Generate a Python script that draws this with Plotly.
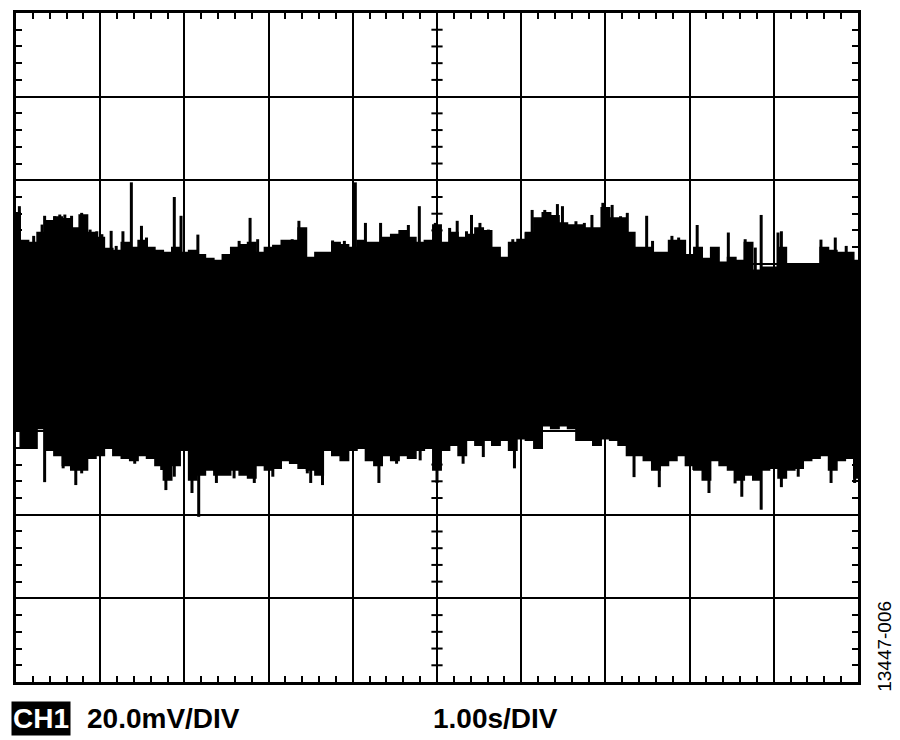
import numpy as np
import plotly.graph_objects as go

# time axis, 1.00 s/div, 10 divisions
t = [round(0.1 * i, 1) for i in range(101)]

# upper / lower envelope of the noise band (mV)
upper = [32.2, 25.6, 25.1, 27.5, 30.3, 31.2, 30.8, 28.6, 31.7, 27.5,
         26.3, 23.7, 23.2, 25.1, 23.9, 25.6, 23.9, 23.2, 22.7, 23.9,
         22.7, 23.2, 22.2, 21.3, 20.8, 22.2, 23.9, 24.6, 25.1, 22.7,
         23.9, 24.4, 25.6, 25.6, 28.6, 21.5, 22.7, 22.7, 25.1, 24.6,
         23.9, 25.6, 25.1, 25.1, 26.3, 27.0, 27.9, 26.3, 25.1, 25.6,
         29.3, 25.1, 27.5, 26.3, 27.0, 28.6, 27.9, 23.9, 21.5, 25.1,
         25.8, 27.5, 31.0, 32.2, 31.5, 29.8, 29.3, 29.3, 28.6, 28.6,
         33.4, 31.0, 31.0, 27.5, 23.9, 23.9, 22.7, 22.7, 25.6, 25.6,
         22.2, 23.9, 21.3, 23.9, 20.4, 21.5, 20.8, 25.1, 18.5, 19.2,
         19.2, 23.9, 19.9, 19.9, 19.9, 19.9, 23.9, 23.2, 22.7, 22.7,
         20.8]
lower = [-19.9, -24.1, -24.1, -19.4, -24.6, -25.8, -28.2, -29.3, -29.3, -26.5,
         -25.8, -24.1, -25.8, -26.5, -27.0, -25.8, -26.5, -28.2, -31.7, -28.2,
         -24.6, -31.7, -30.5, -29.3, -30.5, -30.5, -29.3, -30.5, -31.2, -28.2,
         -29.3, -28.9, -27.0, -27.7, -28.9, -29.3, -30.5, -24.6, -25.8, -27.0,
         -24.6, -24.1, -27.0, -28.2, -25.8, -27.0, -25.8, -26.5, -24.6, -24.1,
         -29.3, -24.6, -23.4, -25.8, -22.2, -23.4, -22.2, -23.4, -22.2, -24.6,
         -21.8, -22.2, -24.1, -18.7, -19.4, -18.7, -19.4, -22.2, -22.2, -23.4,
         -21.8, -22.2, -23.4, -25.8, -25.8, -27.0, -29.3, -28.2, -27.0, -25.8,
         -28.2, -29.3, -31.7, -27.0, -28.2, -29.3, -31.7, -30.5, -31.7, -29.3,
         -28.9, -31.2, -29.3, -28.9, -27.0, -26.5, -25.8, -29.3, -27.0, -26.5,
         -31.2]

# isolated positive / negative spikes (s, mV)
up_t = [0.04, 0.21, 0.31, 0.34, 0.46, 0.52, 0.58, 0.66, 0.78, 0.88,
        0.96, 1.02, 1.13, 1.19, 1.27, 1.37, 1.49, 1.55, 1.88, 1.96,
        2.16, 2.65, 2.78, 2.87, 3.20, 3.28, 3.36, 3.58, 3.76, 3.90,
        4.03, 4.15, 4.25, 4.33, 4.46, 4.66, 4.79, 4.98, 5.15, 5.24,
        5.35, 5.41, 5.51, 5.61, 5.90, 6.06, 6.13, 6.28, 6.43, 6.49,
        6.65, 6.75, 6.84, 6.97, 7.08, 7.18, 7.26, 7.49, 7.56, 7.79,
        7.87, 8.09, 8.29, 8.46, 8.66, 8.78, 8.85, 9.05, 9.09, 9.56,
        9.73, 9.86]
up_v = [33.8, 26.7, 29.4, 31.5, 31.4, 31.8, 31.8, 31.5, 32.2, 28.2,
        27.8, 27.1, 27.9, 24.3, 27.8, 39.5, 29.1, 26.3, 36.0, 31.5,
        27.0, 25.5, 31.0, 25.9, 25.5, 25.9, 30.3, 22.7, 25.6, 25.5,
        39.5, 29.8, 24.7, 29.8, 25.5, 29.3, 33.8, 29.8, 28.6, 30.3,
        27.8, 31.7, 29.8, 28.2, 25.9, 27.5, 32.9, 32.9, 34.3, 33.8,
        30.2, 29.8, 31.7, 34.6, 34.1, 31.4, 32.2, 31.5, 25.5, 26.7,
        26.3, 29.3, 23.5, 27.5, 25.9, 23.9, 31.7, 27.5, 27.8, 25.8,
        26.3, 24.3]
dn_t = [0.34, 0.56, 0.71, 0.78, 1.41, 1.73, 1.78, 1.88, 2.09, 2.17,
        2.38, 2.59, 2.83, 3.05, 3.46, 3.50, 3.64, 4.31, 4.52, 4.80,
        5.00, 5.31, 5.55, 5.92, 7.34, 7.64, 8.05, 8.23, 8.54, 8.62,
        8.85, 9.09, 9.29, 9.68, 9.96]
dn_v = [-32.2, -28.9, -32.9, -30.1, -27.8, -29.3, -34.1, -30.9, -34.8, -40.5,
        -32.4, -31.3, -32.4, -30.9, -30.1, -32.4, -32.9, -32.4, -27.8, -27.0,
        -32.4, -27.8, -26.2, -28.9, -31.0, -33.4, -29.3, -34.8, -32.5, -35.7,
        -38.8, -33.4, -30.9, -32.4, -32.4]

fig = go.Figure()

fig.add_trace(go.Scatter(x=t, y=upper, mode="lines", line=dict(color="black", width=1.5, shape="hvh"),
                         hoverinfo="skip"))
fig.add_trace(go.Scatter(x=t, y=lower, mode="lines", line=dict(color="black", width=1.5, shape="hvh"),
                         fill="tonexty", fillcolor="black", hoverinfo="skip"))

# spikes drawn as thin vertical strokes from the centre
sx, sy = [], []
for xs, ys in ((up_t, up_v), (dn_t, dn_v)):
    for a, b in zip(xs, ys):
        sx += [a, a, None]
        sy += [0, b, None]
fig.add_trace(go.Scatter(x=sx, y=sy, mode="lines", line=dict(color="black", width=3),
                         hoverinfo="skip"))

# tick marks on the centre cross
minor_y = [v for v in np.arange(-80, 80.1, 4) if v % 20 != 0]
minor_x = [round(v, 1) for v in np.arange(0, 10.01, 0.2) if abs(v - round(v)) > 0.01]
fig.add_trace(go.Scatter(x=[5] * len(minor_y), y=minor_y, mode="markers",
                         marker=dict(symbol="line-ew", size=8, line=dict(color="black", width=2)),
                         hoverinfo="skip"))
fig.add_trace(go.Scatter(x=minor_x, y=[0] * len(minor_x), mode="markers",
                         marker=dict(symbol="line-ns", size=8, line=dict(color="black", width=2)),
                         hoverinfo="skip"))

axis_common = dict(showgrid=True, gridcolor="black", gridwidth=2, zeroline=False,
                   showline=True, linecolor="black", linewidth=3, mirror="ticks",
                   ticks="", showticklabels=False, fixedrange=True)
fig.update_xaxes(range=[0, 10], dtick=1, **axis_common,
                 minor=dict(dtick=0.2, ticks="inside", ticklen=6, tickwidth=2,
                            tickcolor="black", showgrid=False))
fig.update_yaxes(range=[-80, 80], dtick=20, **axis_common,
                 minor=dict(dtick=4, ticks="inside", ticklen=6, tickwidth=2,
                            tickcolor="black", showgrid=False))

# the page body adds an 8px offset, so the figure is sized a little smaller
fig.update_layout(
    width=892, height=732,
    margin=dict(l=8, r=42, t=2, b=58),
    paper_bgcolor="white", plot_bgcolor="white",
    showlegend=False,
    font=dict(family="Liberation Sans, Arial, sans-serif", color="black"),
)

ylab = -0.055
fig.add_annotation(text="<b>CH1</b>", xref="paper", yref="paper", x=-0.006, y=ylab,
                   xanchor="left", yanchor="middle", showarrow=False,
                   font=dict(size=28, color="white"), bgcolor="black", borderpad=1)
fig.add_annotation(text="<b>20.0mV/DIV</b>", xref="paper", yref="paper", x=0.082, y=ylab,
                   xanchor="left", yanchor="middle", showarrow=False, font=dict(size=28))
fig.add_annotation(text="<b>1.00s/DIV</b>", xref="paper", yref="paper", x=0.493, y=ylab,
                   xanchor="left", yanchor="middle", showarrow=False, font=dict(size=28))
fig.add_annotation(text="13447-006", xref="paper", yref="paper", x=1.032, y=0.054,
                   xanchor="center", yanchor="middle", textangle=-90, showarrow=False,
                   font=dict(size=19))

fig.write_html("out.html")
